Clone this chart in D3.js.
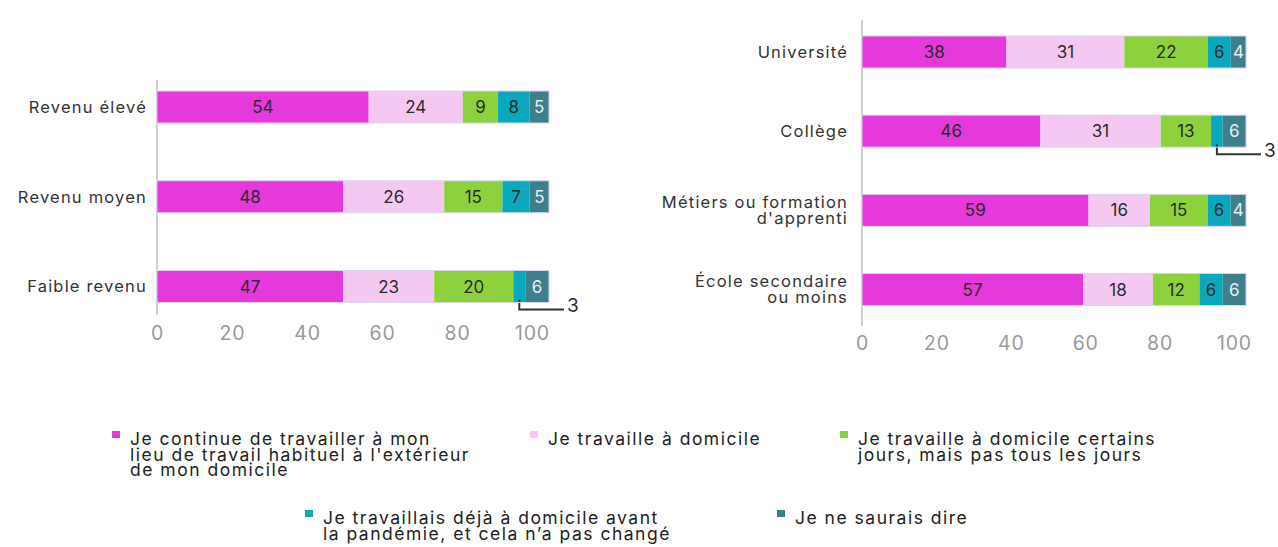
<!DOCTYPE html>
<html>
<head>
<meta charset="utf-8">
<script src="https://cdn.jsdelivr.net/npm/d3@7"></script>
<style>
  body { margin: 0; background: #fff; }
  svg text { font-family: Inter, "Noto Sans", sans-serif; }
</style>
</head>
<body>
<div id="chart"></div>
<script>
const WIDTH = 1278;
const HEIGHT = 547;

// data
const seriesNames = [
  "Je continue de travailler à mon\nlieu de travail habituel à l'extérieur\nde mon domicile",
  "Je travaille à domicile",
  "Je travaille à domicile certains\njours, mais pas tous les jours",
  "Je travaillais déjà à domicile avant\nla pandémie, et cela n’a pas changé",
  "Je ne saurais dire"
];
const colors = ["#e539dc", "#f4c8f1", "#8dd23d", "#0aa8bd", "#3f7f8b"];

const revenuCats = ["Revenu élevé", "Revenu moyen", "Faible revenu"];
const revenuVals = [
  [54, 24, 9, 8, 5],
  [48, 26, 15, 7, 5],
  [47, 23, 20, 3, 6]
];

const educCats = ["Université", "Collège", "Métiers ou formation\nd'apprenti", "École secondaire\nou moins"];
const educVals = [
  [38, 31, 22, 6, 4],
  [46, 31, 13, 3, 6],
  [59, 16, 15, 6, 4],
  [57, 18, 12, 6, 6]
];

const tickVals = [0, 20, 40, 60, 80, 100];

const svg = d3.select("#chart")
  .append("svg")
    .attr("width", WIDTH)
    .attr("height", HEIGHT);

// one panel = one stacked bar chart
function build_panel(cats, vals, opt) {
  const keys = d3.range(seriesNames.length);
  const rows = vals.map((v, i) => {
    let r = {cat: cats[i]};
    keys.forEach(k => r[k] = v[k]);
    return r;
  });
  const stacked = d3.stack().keys(keys).offset(d3.stackOffsetExpand)(rows);

  const x = d3.scaleLinear().domain([0, 1]).range([opt.x0, opt.x1]);
  const y = d3.scalePoint().domain(cats).range([opt.yTop, opt.yBot]);
  const barH = 32;

  const g = svg.append("g");

  // vertical axis line
  g.append("line")
    .attr("x1", opt.x0).attr("x2", opt.x0)
    .attr("y1", opt.lineTop).attr("y2", opt.lineBot)
    .attr("stroke", "#cfcfcf")
    .attr("stroke-width", 2);

  stacked.forEach((layer, k) => {
    layer.forEach((d, i) => {
      const cat = cats[i];
      const v = vals[i][k];
      const xa = x(d[0]), xb = x(d[1]);
      const yc = y(cat);
      g.append("rect")
        .attr("x", xa)
        .attr("y", yc - barH / 2)
        .attr("width", xb - xa)
        .attr("height", barH)
        .attr("fill", colors[k]);
      if (v >= 4) {
        g.append("text")
          .attr("x", (xa + xb) / 2)
          .attr("y", yc)
          .attr("dy", "0.36em")
          .attr("text-anchor", "middle")
          .attr("font-size", 17)
          .attr("fill", k === 4 ? "#e4f1f3" : "#2b2b2b")
          .text(v);
      } else {
        // small value: callout below the bar
        const cx = (xa + xb) / 2;
        const yb = yc + barH / 2;
        g.append("path")
          .attr("d", "M" + cx + "," + (yb - 3) + "V" + (yb + 7) + "H" + (x(1) + 15))
          .attr("fill", "none")
          .attr("stroke", "#333")
          .attr("stroke-width", 2);
        g.append("text")
          .attr("x", x(1) + 18)
          .attr("y", yb + 3)
          .attr("dy", "0.36em")
          .attr("font-size", 19)
          .attr("fill", "#2b2b2b")
          .text(v);
      }
    });
  });

  // light outline round each bar
  cats.forEach(c => {
    g.append("rect")
      .attr("x", x(0))
      .attr("y", y(c) - barH / 2)
      .attr("width", x(1) - x(0))
      .attr("height", barH)
      .attr("fill", "none")
      .attr("stroke", "#d9d6ee")
      .attr("stroke-width", 1);
  });

  // category labels
  cats.forEach(c => {
    const lines = c.split("\n");
    const t = g.append("text")
      .attr("x", opt.labelX)
      .attr("text-anchor", "end")
      .attr("font-size", 16.5)
      .attr("letter-spacing", 1.2)
      .attr("fill", "#333");
    lines.forEach((ln, j) => {
      t.append("tspan")
        .attr("x", opt.labelX)
        .attr("y", y(c) + (j - (lines.length - 1) / 2) * 16)
        .attr("dy", "0.36em")
        .text(ln);
    });
  });

  // bottom axis (tick labels only)
  const xa = d3.scaleLinear().domain([0, 100]).range([opt.x0, opt.x0 + opt.axisW]);
  const ax = g.append("g")
    .attr("transform", "translate(0," + opt.axisY + ")")
    .call(d3.axisBottom(xa).tickValues(tickVals).tickSize(0).tickPadding(0));
  ax.select(".domain").remove();
  ax.selectAll("text")
    .attr("font-size", 19.5)
    .attr("letter-spacing", 0.8)
    .attr("fill", "#9a9a9a")
    .attr("dy", "0.36em")
    .style("font-family", "Inter, sans-serif");
}

build_panel(revenuCats, revenuVals, {
  x0: 157, x1: 549, yTop: 107, yBot: 286.5,
  lineTop: 80, lineBot: 315, labelX: 147,
  axisW: 375, axisY: 333
});

build_panel(educCats, educVals, {
  x0: 862, x1: 1246, yTop: 52, yBot: 289.5,
  lineTop: 20, lineBot: 326, labelX: 848,
  axisW: 372, axisY: 343
});

// legend
const legendPos = [
  {x: 112, y: 439}, {x: 530, y: 439}, {x: 840, y: 439},
  {x: 305, y: 518}, {x: 777, y: 518}
];
seriesNames.forEach((name, k) => {
  const p = legendPos[k];
  svg.append("rect")
    .attr("x", p.x).attr("y", p.y - 8)
    .attr("width", 8).attr("height", 7)
    .attr("fill", colors[k]);
  const t = svg.append("text")
    .attr("font-size", 17.5)
    .attr("letter-spacing", 1.5)
    .attr("fill", "#222");
  name.split("\n").forEach((ln, j) => {
    t.append("tspan")
      .attr("x", p.x + 18)
      .attr("y", p.y + j * 15.5)
      .attr("dy", "0.36em")
      .text(ln);
  });
});
</script>
</body>
</html>
